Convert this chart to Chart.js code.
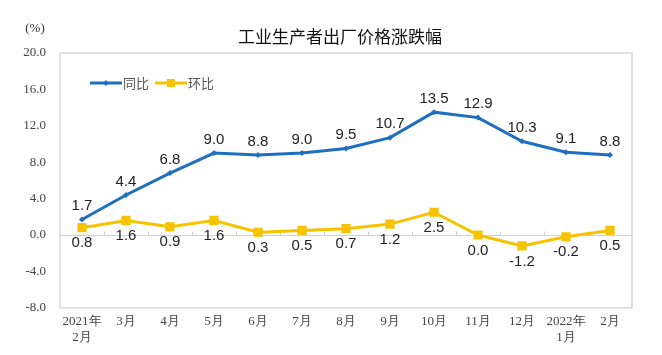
<!DOCTYPE html>
<html><head><meta charset="utf-8">
<script src="https://cdn.jsdelivr.net/npm/chart.js@4"></script>
<style>html,body{margin:0;padding:0;background:#fff}#wrap{width:662px;height:355px}</style>
</head><body><div id="wrap"><canvas id="c" width="662" height="355"></canvas></div>
<script>
const categories = [["2021年","2月"],"3月","4月","5月","6月","7月","8月","9月","10月","11月","12月",["2022年","1月"],"2月"];
const yoyValues = [1.7,4.4,6.8,9.0,8.8,9.0,9.5,10.7,13.5,12.9,10.3,9.1,8.8];
const momValues = [0.8,1.6,0.9,1.6,0.3,0.5,0.7,1.2,2.5,0.0,-1.2,-0.2,0.5];
const yTicks = [-8,-4,0,4,8,12,16,20];
const seriesNames = ["同比","环比"];
const titleText = "工业生产者出厂价格涨跌幅";
const unitText = "(%)";

const BLUE = "#1e6fc0", YELLOW = "#f7c300";
const serif = "'Liberation Serif','DejaVu Serif',serif";
const sans = "'Liberation Sans',Arial,sans-serif";
const cjk = "'Noto Sans CJK SC',sans-serif";

const deco = {
  id: 'deco',
  beforeDatasetsDraw(chart) {
    const {ctx, chartArea: a, scales: {x, y}} = chart;
    ctx.save();
    ctx.strokeStyle = '#d9d9d9'; ctx.lineWidth = 1.5;
    ctx.strokeRect(a.left, a.top, a.right - a.left, a.bottom - a.top);
    const y0 = Math.round(y.getPixelForValue(0)) + 0.5;
    ctx.strokeStyle = '#d0d0d0'; ctx.lineWidth = 1;
    ctx.beginPath(); ctx.moveTo(a.left, y0); ctx.lineTo(a.right, y0); ctx.stroke();
    for (let i = 1; i < categories.length; i++) {
      const px = Math.round((x.getPixelForValue(i - 1) + x.getPixelForValue(i)) / 2) + 0.5;
      ctx.beginPath(); ctx.moveTo(px, y0); ctx.lineTo(px, y0 - 4); ctx.stroke();
    }
    ctx.restore();
  },
  afterDatasetsDraw(chart) {
    const {ctx} = chart;
    ctx.save();
    ctx.fillStyle = '#222';
    ctx.font = "15px " + sans;
    ctx.textAlign = 'center';
    const m0 = chart.getDatasetMeta(0), m1 = chart.getDatasetMeta(1);
    m0.data.forEach((p, i) => { ctx.textBaseline = 'bottom'; ctx.fillText(yoyValues[i].toFixed(1), p.x, p.y - 6); });
    m1.data.forEach((p, i) => { ctx.textBaseline = 'top'; ctx.fillText(momValues[i].toFixed(1), p.x, p.y + 8); });
    // title
    ctx.font = "17px " + cjk; ctx.fillStyle = '#111'; ctx.textBaseline = 'middle';
    ctx.fillText(titleText, 340, 37);
    ctx.font = "13px " + serif; ctx.fillStyle = '#333';
    ctx.fillText(unitText, 35, 29);
    // legend
    const ly = 83;
    const items = [{c: BLUE, t: seriesNames[0], x: 90, s: 'd'}, {c: YELLOW, t: seriesNames[1], x: 155, s: 's'}];
    items.forEach(it => {
      ctx.strokeStyle = it.c; ctx.lineWidth = 3;
      ctx.beginPath(); ctx.moveTo(it.x, ly); ctx.lineTo(it.x + 32, ly); ctx.stroke();
      ctx.fillStyle = it.c;
      if (it.s === 'd') { ctx.beginPath(); ctx.moveTo(it.x+16, ly-3); ctx.lineTo(it.x+19, ly); ctx.lineTo(it.x+16, ly+3); ctx.lineTo(it.x+13, ly); ctx.fill(); }
      else ctx.fillRect(it.x + 12, ly - 4, 8, 8);
      ctx.fillStyle = '#555'; ctx.font = "13px " + cjk; ctx.textAlign = 'left';
      ctx.fillText(it.t, it.x + 33, ly);
    });
    ctx.restore();
  }
};

new Chart(document.getElementById('c'), {
  type: 'line',
  data: {
    labels: categories,
    datasets: [
      {data: yoyValues, borderColor: BLUE, backgroundColor: BLUE, borderWidth: 3, pointStyle: 'rectRot', pointRadius: 3, pointBorderWidth: 0, tension: 0},
      {data: momValues, borderColor: YELLOW, backgroundColor: YELLOW, borderWidth: 3, pointStyle: 'rect', pointRadius: 6.5, pointBorderWidth: 0, tension: 0}
    ]
  },
  options: {
    responsive: false, animation: false, devicePixelRatio: 1,
    layout: {padding: {top: 53, right: 30, left: 0, bottom: 4}},
    plugins: {legend: {display: false}, tooltip: {enabled: false}, title: {display: false}},
    scales: {
      x: {offset: true, grid: {display: false, drawTicks: false}, border: {display: false},
          ticks: {color: '#444', font: {family: serif, size: 13}, padding: 6, maxRotation: 0, autoSkip: false}},
      y: {min: -8, max: 20, afterBuildTicks(s) { s.ticks = yTicks.map(v => ({value: v})); },
          grid: {display: false, drawTicks: false}, border: {display: false},
          ticks: {color: '#444', font: {family: serif, size: 13}, padding: 14, callback: v => Number(v).toFixed(1)},
          afterFit(s) { s.width = 60; }}
    }
  },
  plugins: [deco]
});
</script></body></html>
